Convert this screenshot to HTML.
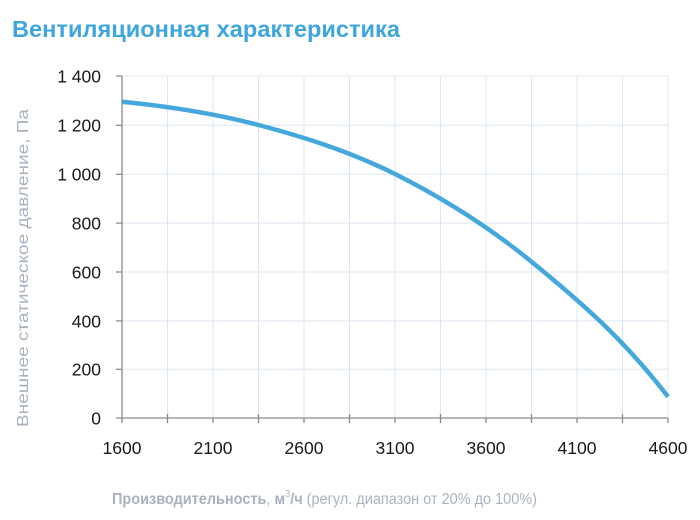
<!DOCTYPE html>
<html><head><meta charset="utf-8"><style>
html,body{margin:0;padding:0;background:#fff;}
svg{display:block;}
</style></head><body>
<svg width="700" height="520" viewBox="0 0 700 520" xmlns="http://www.w3.org/2000/svg">
<rect width="700" height="520" fill="#fff"/>
<text x="12" y="37" font-family="Liberation Sans, sans-serif" font-weight="bold" font-size="23" fill="#3fa6dd" textLength="388" lengthAdjust="spacingAndGlyphs">Вентиляционная характеристика</text>
<g stroke="#dde7f1" stroke-width="1">
<line x1="122" y1="76" x2="668" y2="76"/>
<line x1="122" y1="125.3" x2="668" y2="125.3"/>
<line x1="122" y1="174.3" x2="668" y2="174.3"/>
<line x1="122" y1="223.1" x2="668" y2="223.1"/>
<line x1="122" y1="272" x2="668" y2="272"/>
<line x1="122" y1="320.9" x2="668" y2="320.9"/>
<line x1="122" y1="369.3" x2="668" y2="369.3"/>
<line x1="167.5" y1="76" x2="167.5" y2="418"/>
<line x1="213" y1="76" x2="213" y2="418"/>
<line x1="258.5" y1="76" x2="258.5" y2="418"/>
<line x1="304" y1="76" x2="304" y2="418"/>
<line x1="349.5" y1="76" x2="349.5" y2="418"/>
<line x1="395" y1="76" x2="395" y2="418"/>
<line x1="440.5" y1="76" x2="440.5" y2="418"/>
<line x1="486" y1="76" x2="486" y2="418"/>
<line x1="531.5" y1="76" x2="531.5" y2="418"/>
<line x1="577" y1="76" x2="577" y2="418"/>
<line x1="622.5" y1="76" x2="622.5" y2="418"/>
<line x1="668" y1="76" x2="668" y2="418"/>
</g>
<g stroke="#8a8a8a" stroke-width="1.3">
<line x1="122" y1="76" x2="122" y2="418"/>
<line x1="116" y1="418" x2="668" y2="418"/>
<line x1="116" y1="76" x2="122" y2="76"/>
<line x1="116" y1="125.3" x2="122" y2="125.3"/>
<line x1="116" y1="174.3" x2="122" y2="174.3"/>
<line x1="116" y1="223.1" x2="122" y2="223.1"/>
<line x1="116" y1="272" x2="122" y2="272"/>
<line x1="116" y1="320.9" x2="122" y2="320.9"/>
<line x1="116" y1="369.3" x2="122" y2="369.3"/>
<line x1="122" y1="418" x2="122" y2="423"/>
<line x1="167.5" y1="414" x2="167.5" y2="423"/>
<line x1="213" y1="418" x2="213" y2="423"/>
<line x1="258.5" y1="414" x2="258.5" y2="423"/>
<line x1="304" y1="418" x2="304" y2="423"/>
<line x1="349.5" y1="414" x2="349.5" y2="423"/>
<line x1="395" y1="418" x2="395" y2="423"/>
<line x1="440.5" y1="414" x2="440.5" y2="423"/>
<line x1="486" y1="418" x2="486" y2="423"/>
<line x1="531.5" y1="414" x2="531.5" y2="423"/>
<line x1="577" y1="418" x2="577" y2="423"/>
<line x1="622.5" y1="414" x2="622.5" y2="423"/>
<line x1="668" y1="418" x2="668" y2="423"/>
</g>
<g font-family="Liberation Sans, sans-serif" font-size="17.5" fill="#1a1a1a" text-anchor="end">
<text x="101" y="82.5">1 400</text>
<text x="101" y="131.5">1 200</text>
<text x="101" y="180.5">1 000</text>
<text x="101" y="229.5">800</text>
<text x="101" y="278.5">600</text>
<text x="101" y="327.5">400</text>
<text x="101" y="375.5">200</text>
<text x="101" y="424.5">0</text>
</g>
<g font-family="Liberation Sans, sans-serif" font-size="17.5" fill="#1a1a1a" text-anchor="middle">
<text x="122" y="454">1600</text>
<text x="213" y="454">2100</text>
<text x="304" y="454">2600</text>
<text x="395" y="454">3100</text>
<text x="486" y="454">3600</text>
<text x="577" y="454">4100</text>
<text x="668" y="454">4600</text>
</g>
<text transform="translate(28,268) rotate(-90)" text-anchor="middle" font-family="Liberation Sans, sans-serif" font-size="16" fill="#a9b3bd" textLength="318" lengthAdjust="spacingAndGlyphs">Внешнее статическое давление, Па</text>
<text x="112" y="504" font-family="Liberation Sans, sans-serif" font-size="16" fill="#a9b3bd" textLength="425" lengthAdjust="spacingAndGlyphs"><tspan font-weight="bold">Производительность</tspan>, <tspan font-weight="bold">м</tspan><tspan font-size="10" dy="-7">3</tspan><tspan dy="7" font-weight="bold">/ч</tspan> (регул. диапазон от 20% до 100%)</text>
<path fill="none" stroke="#45a8dc" stroke-width="4.5" stroke-linecap="butt"
d="M122,101.7 C167.5,106.2 213,112.9 258.5,125 C304,137.06 349.5,151.2 395,174 C440.5,196.8 486,224.6 531.5,261.7 C577,298.8 622.5,337.5 668,396.7"/>
</svg>
</body></html>
